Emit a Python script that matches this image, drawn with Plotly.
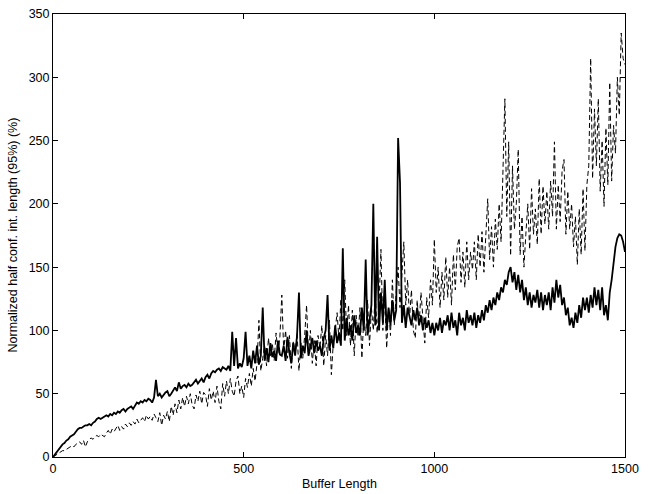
import plotly.graph_objects as go

# x positions (Buffer Length), step 5
buffer_length = list(range(0, 1501, 5))

# Solid series
solid_values = [
    0, 2, 4, 6, 8, 10, 11, 13, 14, 16, 17, 18, 20, 22, 23, 23, 24, 25, 25, 26,
    25, 27, 28, 30, 31, 30, 31, 32, 33, 32, 34, 33, 35, 34, 36, 35, 37, 38, 36, 38,
    39, 40, 38, 41, 43, 42, 44, 43, 45, 44, 46, 45, 43, 47, 61, 48, 50, 47, 49, 51,
    52, 48, 50, 53, 55, 52, 59, 54, 56, 57, 55, 58, 56, 57, 59, 61, 58, 60, 62, 59,
    63, 65, 62, 66, 68, 67, 69, 70, 68, 71, 70, 69, 72, 68, 99, 72, 94, 70, 74, 71,
    78, 99, 72, 80, 70, 84, 74, 88, 73, 80, 118, 76, 86, 75, 90, 79, 84, 76, 92, 81,
    80, 88, 76, 95, 82, 74, 90, 80, 96, 130, 78, 88, 82, 100, 80, 86, 94, 82, 92, 84,
    88, 80, 94, 100, 128, 84, 96, 86, 104, 90, 98, 88, 165, 92, 110, 96, 104, 92, 112, 98,
    104, 96, 118, 100, 156, 96, 110, 120, 200, 104, 174, 100, 130, 106, 140, 100, 118, 104, 124, 108,
    116, 252, 217, 106, 120, 102, 118, 110, 104, 116, 108, 118, 104, 112, 100, 110, 102, 108, 98, 106,
    96, 106, 100, 110, 98, 108, 104, 112, 100, 114, 102, 108, 96, 114, 104, 110, 100, 116, 106, 112,
    104, 114, 102, 112, 106, 116, 108, 120, 114, 124, 116, 126, 120, 130, 124, 134, 130, 140, 136, 146,
    150, 138, 146, 132, 144, 130, 140, 124, 134, 120, 130, 118, 128, 122, 132, 118, 130, 116, 128, 120,
    130, 116, 134, 122, 140, 126, 136, 120, 126, 112, 118, 104, 110, 102, 114, 106, 120, 110, 126, 116,
    126, 114, 128, 118, 134, 120, 132, 116, 134, 112, 120, 108, 130, 140, 156, 166, 173, 176, 175, 170,
    162,
]

# Dashed series
dashed_values = [
    0, 1, 2, 3, 4, 5, 5, 6, 7, 8, 9, 8, 10, 11, 12, 10, 13, 8, 12, 14,
    15, 14, 16, 17, 16, 18, 17, 16, 19, 21, 18, 22, 20, 23, 25, 21, 24, 22, 26, 24,
    27, 25, 28, 26, 30, 27, 29, 31, 28, 33, 30, 32, 29, 34, 31, 28, 35, 25, 33, 30,
    36, 28, 40, 33, 42, 35, 45, 38, 47, 40, 48, 42, 50, 41, 38, 49, 44, 52, 42, 51,
    49, 40, 54, 45, 52, 43, 56, 44, 38, 58, 48, 60, 50, 62, 52, 48, 60, 64, 50, 56,
    47, 62, 55, 66, 56, 70, 60, 74, 108, 68, 78, 88, 72, 94, 80, 90, 76, 98, 82, 95,
    128, 84, 100, 78, 96, 70, 92, 82, 98, 68, 90, 78, 96, 120, 80, 100, 74, 92, 72, 96,
    86, 104, 72, 96, 80, 108, 65, 90, 100, 114, 92, 125, 100, 140, 96, 120, 88, 116, 80, 112,
    95, 118, 78, 110, 96, 124, 88, 118, 100, 130, 98, 120, 164, 100, 126, 86, 118, 96, 140, 104,
    130, 150, 118, 142, 170, 120, 140, 110, 132, 100, 94, 124, 104, 130, 112, 90, 126, 110, 140, 120,
    172, 130, 150, 118, 146, 124, 158, 126, 150, 120, 160, 132, 166, 173, 138, 162, 134, 170, 140, 162,
    148, 170, 140, 176, 150, 178, 146, 180, 204, 156, 182, 150, 188, 164, 200, 170, 225, 283, 190, 249,
    159, 230, 180, 200, 243, 160, 190, 150, 176, 200, 164, 212, 176, 196, 168, 220, 176, 214, 184, 210,
    180, 218, 190, 249, 180, 215, 186, 226, 235, 176, 210, 180, 200, 166, 190, 152, 196, 160, 212, 163,
    215, 230, 315, 220, 275, 230, 283, 210, 250, 198, 260, 215, 296, 218, 262, 240, 300, 270, 335, 315,
    310,
]

x_ticks = [0, 500, 1000, 1500]
y_ticks = [0, 50, 100, 150, 200, 250, 300, 350]
x_title = "Buffer Length"
y_title = "Normalized half conf. int. length (95%) (%)"

FONT = "Liberation Sans, Arial, Helvetica, sans-serif"

fig = go.Figure()
fig.add_trace(go.Scatter(
    x=buffer_length, y=dashed_values, mode="lines",
    line=dict(color="black", width=1, dash="5px,3px"),
    showlegend=False,
))
fig.add_trace(go.Scatter(
    x=buffer_length, y=solid_values, mode="lines",
    line=dict(color="black", width=1.8),
    showlegend=False,
))

axis_common = dict(
    showgrid=False, zeroline=False, showline=True, linecolor="black", linewidth=1,
    mirror="allticks", ticks="inside", ticklen=5, tickwidth=1, tickcolor="black",
    tickfont=dict(family=FONT, size=12.5, color="black"),
)
fig.update_xaxes(range=[0, 1500], tickvals=x_ticks, **axis_common)
fig.update_yaxes(range=[0, 350], tickvals=y_ticks, **axis_common)

fig.add_annotation(text=x_title, xref="paper", yref="paper", x=0.5, y=0,
                   xanchor="center", yanchor="top", yshift=-18, showarrow=False,
                   font=dict(family=FONT, size=12.5, color="black"))
fig.add_annotation(text=y_title, xref="paper", yref="paper", x=(12 - 53) / 572, y=0.5,
                   xanchor="center", yanchor="middle", textangle=-90, showarrow=False,
                   font=dict(family=FONT, size=12.5, color="black"))

fig.update_layout(
    width=654, height=494,
    margin=dict(l=53, r=29, t=7, b=37),
    paper_bgcolor="white", plot_bgcolor="white",
    font=dict(family=FONT, size=12.5, color="black"),
)

fig.write_html("out.html")
